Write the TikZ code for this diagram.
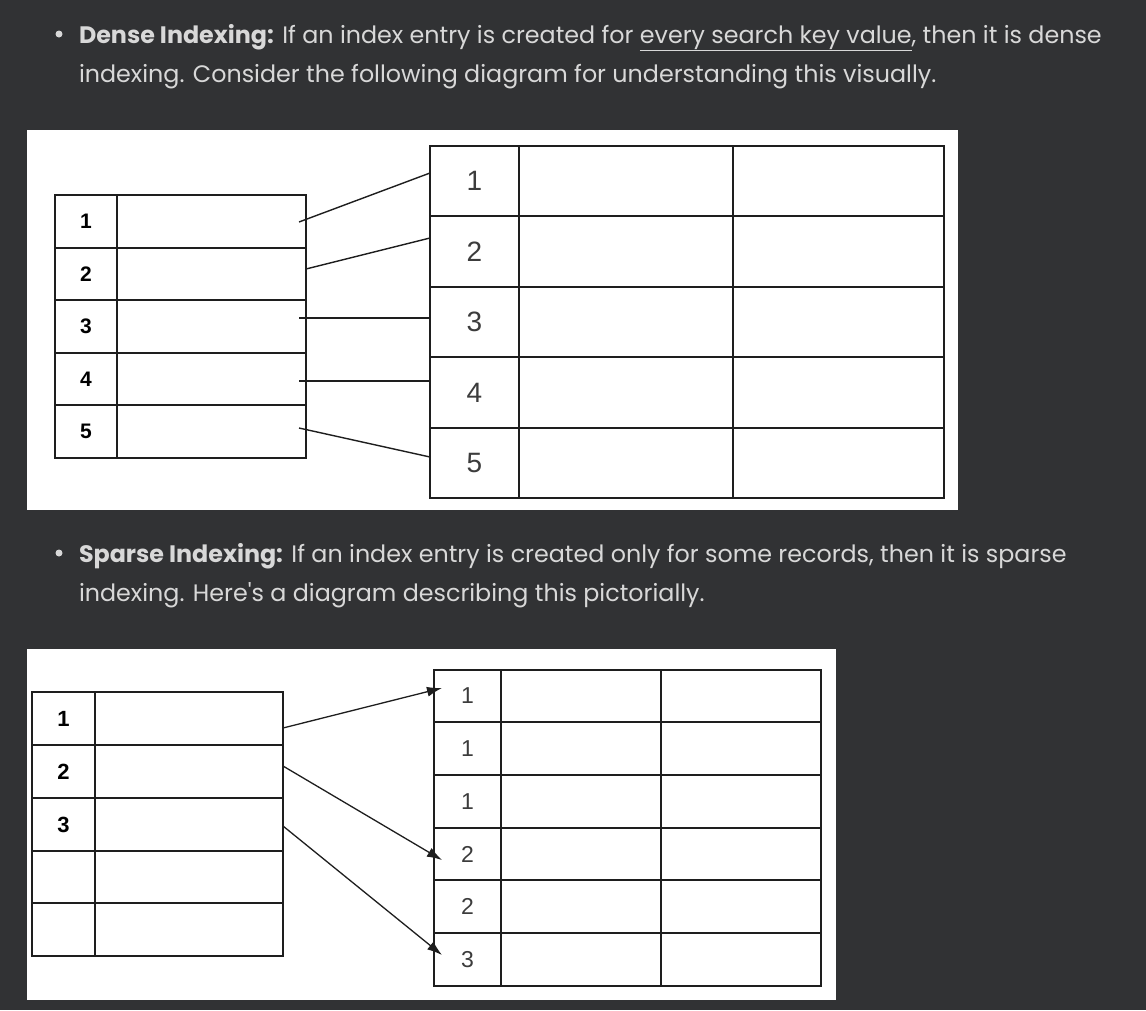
\documentclass[tikz,border=0pt]{standalone}
\usepackage{fontspec}
\setmainfont{Liberation Sans}
\newfontfamily\bodyfnt{Poppins}
\usetikzlibrary{arrows.meta}
\definecolor{bgc}{HTML}{313234}
\definecolor{txc}{HTML}{D8D8D8}
\definecolor{linec}{HTML}{1E1E1E}
\definecolor{numc}{HTML}{3C3C3C}
\tikzset{
  para/.style={anchor=base west, inner sep=0pt, outer sep=0pt, text=txc, font=\bodyfnt\fontsize{23.8}{28}\selectfont},
  bul/.style={circle, fill=txc, inner sep=0pt, minimum size=7pt},
  panel/.style={fill=white, draw=none},
  cell/.style={draw=linec, line width=1.6pt, rectangle, inner sep=0pt, outer sep=0pt, anchor=north west},
  keyb/.style={font=\bfseries\fontsize{21}{21}\selectfont, text=black},
  keyr/.style={font=\fontsize{28}{28}\selectfont, text=numc},
  keyrs/.style={font=\fontsize{23}{23}\selectfont, text=numc},
  keybs/.style={font=\bfseries\fontsize{22}{22}\selectfont, text=black},
  conn/.style={draw=linec, line width=1.4pt},
  arr/.style={draw=linec, line width=1.3pt, -{Latex[length=15pt,width=10pt]}},
}
\begin{document}
\begin{tikzpicture}[x=1pt,y=-1pt]
\fill[bgc] (0,0) rectangle (1146,1010);
\useasboundingbox (0,0) rectangle (1146,1010);

% ---- paragraph 1
\node[bul] (b1) at (59,34) {};
\node[para] (t1) at (79,43) {\textbf{Dense Indexing:} If an index entry is created for \underline{every search key value}, then it is dense};
\node[para] (t2) at (79,82) {indexing. Consider the following diagram for understanding this visually.};

% ---- panel 1
\fill[panel] (27,130) rectangle (958,510);
% left index table
\foreach \i/\y/\h in {1/195/53,2/248/52,3/300/53,4/353/52,5/405/53} {
  \node[cell, minimum width=62pt, minimum height=\h pt, keyb] (Ak\i) at (55,\y) {\i};
  \node[cell, minimum width=189pt, minimum height=\h pt] (Ad\i) at (117,\y) {};
}
% right data table
\foreach \i/\y/\h in {1/146/70,2/216/71,3/287/70,4/357/71,5/428/70} {
  \node[cell, minimum width=89pt, minimum height=\h pt, keyr] (Bk\i) at (430,\y) {\i};
  \node[cell, minimum width=214pt, minimum height=\h pt] (Bd\i) at (519,\y) {};
  \node[cell, minimum width=211pt, minimum height=\h pt] (Be\i) at (733,\y) {};
}
\coordinate (p1s) at (299,222); \coordinate (p1e) at (430,173);
\coordinate (p2s) at (306,269); \coordinate (p2e) at (430,238);
\coordinate (p3s) at (299,318); \coordinate (p3e) at (430,318);
\coordinate (p4s) at (299,381); \coordinate (p4e) at (430,381);
\coordinate (p5s) at (299,428); \coordinate (p5e) at (430,457);
\foreach \i in {1,...,5} { \draw[conn] (p\i s) -- (p\i e); }

% ---- paragraph 2
\node[bul] (b2) at (59,553) {};
\node[para] (t3) at (79,562) {\textbf{Sparse Indexing:} If an index entry is created only for some records, then it is sparse};
\node[para] (t4) at (79,601) {indexing. Here's a diagram describing this pictorially.};

% ---- panel 2
\fill[panel] (27,649) rectangle (836,1000);
\foreach \i/\t/\y/\h in {1/1/692/53,2/2/745/53,3/3/798/53,4/{}/851/52,5/{}/903/53} {
  \node[cell, minimum width=63pt, minimum height=\h pt, keybs] (Ck\i) at (32,\y) {\t};
  \node[cell, minimum width=188pt, minimum height=\h pt] (Cd\i) at (95,\y) {};
}
\foreach \i/\t/\y/\h in {1/1/670/52,2/1/722/53,3/1/775/53,4/2/828/52,5/2/880/53,6/3/933/53} {
  \node[cell, minimum width=67pt, minimum height=\h pt, keyrs] (Dk\i) at (434,\y) {\t};
  \node[cell, minimum width=160pt, minimum height=\h pt] (Dd\i) at (501,\y) {};
  \node[cell, minimum width=160pt, minimum height=\h pt] (De\i) at (661,\y) {};
}
\coordinate (q1s) at (283,728); \coordinate (q1e) at (442,688);
\coordinate (q2s) at (283,766); \coordinate (q2e) at (442,860);
\coordinate (q3s) at (283,826); \coordinate (q3e) at (442,955);
\foreach \i in {1,2,3} { \draw[arr] (q\i s) -- (q\i e); }
\end{tikzpicture}
\end{document}
